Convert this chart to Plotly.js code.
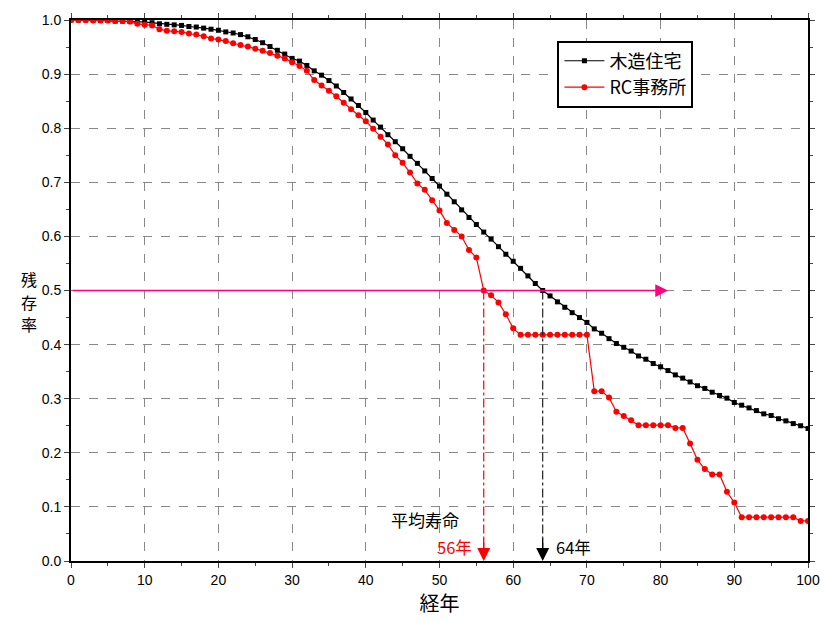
<!DOCTYPE html>
<html>
<head>
<meta charset="utf-8">
<script src="https://cdn.plot.ly/plotly-3.0.1.min.js"></script>
<style>html,body{margin:0;padding:0;background:#fff;}#chart{width:825px;height:622px;}</style>
</head>
<body>
<div id="chart"></div>
<script>
const years = Array.from({length: 101}, (_, i) => i);
const woodName = "木造住宅";
const rcName = "RC事務所";
const woodValues = [
  1.000,1.000,1.000,1.000,0.999,0.999,0.998,0.998,0.997,0.997,
  0.996,0.995,0.993,0.992,0.991,0.990,0.988,0.987,0.985,0.983,
  0.981,0.978,0.976,0.973,0.969,0.964,0.958,0.951,0.944,0.937,
  0.929,0.924,0.916,0.906,0.898,0.888,0.878,0.866,0.854,0.842,
  0.829,0.815,0.802,0.788,0.775,0.762,0.748,0.735,0.721,0.707,
  0.693,0.678,0.664,0.649,0.635,0.622,0.608,0.595,0.581,0.567,
  0.554,0.541,0.527,0.513,0.500,0.490,0.479,0.469,0.459,0.450,
  0.441,0.429,0.421,0.411,0.402,0.395,0.388,0.379,0.373,0.365,
  0.359,0.352,0.344,0.338,0.331,0.324,0.319,0.312,0.306,0.301,
  0.293,0.288,0.283,0.278,0.272,0.269,0.263,0.259,0.254,0.250,0.245
];
const rcValues = [
  1.000,1.000,1.000,0.999,0.999,0.999,0.998,0.998,0.997,0.993,
  0.991,0.990,0.983,0.980,0.979,0.978,0.975,0.973,0.970,0.966,
  0.964,0.961,0.957,0.954,0.951,0.947,0.943,0.939,0.934,0.929,
  0.922,0.915,0.906,0.889,0.879,0.869,0.859,0.847,0.835,0.824,
  0.813,0.799,0.784,0.770,0.750,0.736,0.718,0.698,0.686,0.667,
  0.648,0.625,0.612,0.600,0.575,0.561,0.500,0.491,0.478,0.456,
  0.430,0.418,0.418,0.418,0.418,0.418,0.418,0.418,0.418,0.418,
  0.418,0.314,0.314,0.302,0.276,0.268,0.260,0.251,0.251,0.251,
  0.251,0.251,0.246,0.246,0.217,0.187,0.170,0.160,0.160,0.128,
  0.108,0.081,0.081,0.081,0.081,0.081,0.081,0.081,0.081,0.074,0.074
];
const halfLevel = 0.5;
const arrowEndYear = 81;
const rcLife = 56;
const woodLife = 64;
const xTickVals = [0,10,20,30,40,50,60,70,80,90,100];
const yTickVals = [0,0.1,0.2,0.3,0.4,0.5,0.6,0.7,0.8,0.9,1.0];
const yTitleChars = ['残', '存', '率'];

const font = "Liberation Sans, Arial, Noto Sans CJK JP, sans-serif";
const cjk = "Noto Sans CJK JP, sans-serif";

const traces = [
  {x: years, y: woodValues, name: woodName, type: 'scatter', mode: 'lines+markers',
   line: {color: '#000', width: 1.2}, marker: {symbol: 'square', size: 5, color: '#000'}},
  {x: years, y: rcValues, name: rcName, type: 'scatter', mode: 'lines+markers',
   line: {color: '#ff0000', width: 1.2}, marker: {symbol: 'circle', size: 6, color: '#ff0000'}}
];

const annotations = [
  {x: arrowEndYear, y: halfLevel, ax: 0, ay: halfLevel, xref: 'x', yref: 'y', axref: 'x', ayref: 'y',
   text: '', showarrow: true, arrowhead: 2, arrowsize: 1.7, arrowwidth: 1.5, arrowcolor: '#ff0080', standoff: 0},
  {x: rcLife, y: 0, ax: 0, ay: -24, xref: 'x', yref: 'y', text: '', showarrow: true,
   arrowhead: 2, arrowsize: 2, arrowwidth: 1.3, arrowcolor: '#ff0000', standoff: 0},
  {x: woodLife, y: 0, ax: 0, ay: -24, xref: 'x', yref: 'y', text: '', showarrow: true,
   arrowhead: 2, arrowsize: 2, arrowwidth: 1.3, arrowcolor: '#000', standoff: 0},
  {x: 48.0, y: 0.076, xref: 'x', yref: 'y', text: '平均寿命', showarrow: false,
   font: {family: cjk, size: 17, color: '#000'}},
  {x: 52.1, y: 0.026, xref: 'x', yref: 'y', text: '56年', showarrow: false,
   font: {family: cjk, size: 16.5, color: '#ff0000'}},
  {x: 68.2, y: 0.026, xref: 'x', yref: 'y', text: '64年', showarrow: false,
   font: {family: cjk, size: 16.5, color: '#000'}}
];
// stacked y-axis title, one character per annotation (pixel positions converted to paper coords)
yTitleChars.forEach((ch, i) => {
  annotations.push({x: (20 - 71) / 737, y: (561 - (279 + i * 22.5)) / 541, xref: 'paper', yref: 'paper',
    text: ch, showarrow: false, borderpad: 0, font: {family: cjk, size: 16, color: '#000'}});
});

const layout = {
  width: 825, height: 622,
  margin: {l: 71, r: 17, t: 20, b: 61},
  paper_bgcolor: '#fff', plot_bgcolor: '#fff',
  font: {family: font, size: 14, color: '#000'},
  showlegend: true,
  legend: {x: 0.66, y: 0.962, xanchor: 'left', yanchor: 'top', bordercolor: '#000', borderwidth: 2,
           bgcolor: '#fff', font: {family: cjk, size: 18, color: '#000'}, tracegroupgap: 0, itemwidth: 40},
  xaxis: {range: [0, 100], tickvals: xTickVals, ticks: 'outside', ticklen: 5, tickwidth: 1,
          minor: {dtick: 5, ticks: 'outside', ticklen: 3, showgrid: false},
          showline: true, linecolor: '#000', linewidth: 2, mirror: 'ticks',
          showgrid: true, gridcolor: '#888', griddash: 'dash', gridwidth: 1, zeroline: false,
          tickfont: {size: 14},
          title: {text: '経年', font: {family: cjk, size: 20}, standoff: 8}},
  yaxis: {range: [0, 1.0], tickvals: yTickVals, tickformat: '.1f', ticks: 'outside', ticklen: 5, tickwidth: 1,
          minor: {dtick: 0.05, ticks: 'outside', ticklen: 3, showgrid: false},
          showline: true, linecolor: '#000', linewidth: 2, mirror: 'ticks',
          showgrid: true, gridcolor: '#888', griddash: 'dash', gridwidth: 1, zeroline: false,
          tickfont: {size: 14}},
  shapes: [
    {type: 'line', xref: 'x', yref: 'y', x0: rcLife, x1: rcLife, y0: halfLevel, y1: 0.02,
     line: {color: '#ff0000', width: 1.2, dash: 'dashdot'}},
    {type: 'line', xref: 'x', yref: 'y', x0: woodLife, x1: woodLife, y0: halfLevel, y1: 0.02,
     line: {color: '#222', width: 1.2, dash: 'dashdot'}}
  ],
  annotations: annotations
};

Plotly.newPlot('chart', traces, layout, {displayModeBar: false, staticPlot: true});
</script>
</body>
</html>
